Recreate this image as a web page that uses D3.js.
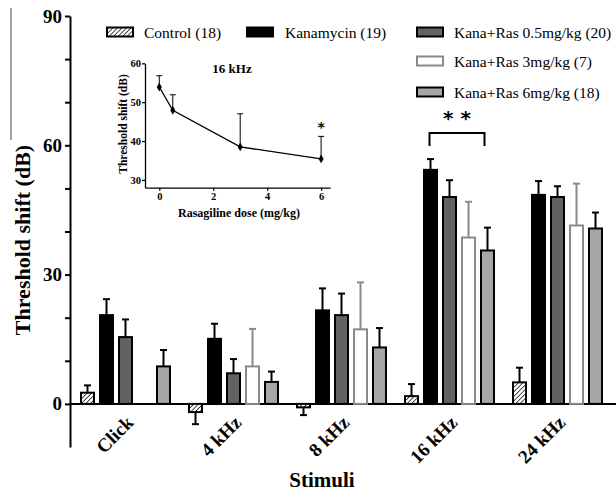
<!DOCTYPE html>
<html>
<head>
  <meta charset="UTF-8">
  <style>
    body { margin: 0; padding: 0; background: #fff; }
    svg { display: block; }
    text { font-family: "Liberation Serif", "Times New Roman", serif; fill: #000; }
  </style>
</head>
<body>
<svg></svg>
<script src="https://d3js.org/d3.v7.min.js"></script>
<script>
  // main chart data
  const groups = ["Click", "4 kHz", "8 kHz", "16 kHz", "24 kHz"];
  const seriesNames = ["Control (18)", "Kanamycin (19)", "Kana+Ras 0.5mg/kg (20)", "Kana+Ras 3mg/kg (7)", "Kana+Ras 6mg/kg (18)"];
  const controlMean = [2.6, -1.9, -0.8, 1.8, 5.0];
  const kanaMean    = [20.6, 15.1, 21.7, 54.3, 48.5];
  const ras05Mean   = [15.5, 7.1, 20.6, 48.0, 48.0];
  const ras3Mean    = [null, 8.7, 17.3, 38.6, 41.4];
  const ras6Mean    = [8.7, 5.1, 13.1, 35.6, 40.7];
  const controlErr  = [1.7, 2.8, 1.8, 2.8, 3.4];
  const kanaErr     = [3.7, 3.5, 5.1, 2.5, 3.2];
  const ras05Err    = [4.1, 3.3, 5.0, 3.9, 2.5];
  const ras3Err     = [null, 8.7, 10.9, 8.3, 9.7];
  const ras6Err     = [3.8, 2.4, 4.5, 5.3, 3.7];
  const yTickLabels = [0, 30, 60, 90];

  // inset data (16 kHz)
  const doses = [0, 0.5, 3, 6];
  const insetMean = [53.9, 47.9, 38.5, 35.4];
  const insetErr = [2.9, 4.0, 8.5, 5.8];
  const insetXTicks = [0, 2, 4, 6];
  const insetYTicks = [30, 40, 50, 60];

  const means = [controlMean, kanaMean, ras05Mean, ras3Mean, ras6Mean];
  const errs = [controlErr, kanaErr, ras05Err, ras3Err, ras6Err];

  const width = 616, height = 491;
  const svg = d3.select("svg").attr("width", width).attr("height", height);

  // hatch pattern for control
  const defs = svg.append("defs");
  const pat = defs.append("pattern")
      .attr("id", "hatch")
      .attr("patternUnits", "userSpaceOnUse")
      .attr("width", 3.2).attr("height", 3.2)
      .attr("patternTransform", "rotate(45)");
  pat.append("rect").attr("width", 3.2).attr("height", 3.2).attr("fill", "#fff");
  pat.append("line").attr("x1", 0).attr("y1", 0).attr("x2", 0).attr("y2", 3.2)
      .attr("stroke", "#000").attr("stroke-width", 1.4);

  const fills = ["url(#hatch)", "#000", "#626262", "#fff", "#a6a6a6"];
  const strokes = ["#000", "#000", "#000", "#8a8a8a", "#000"];

  // scales
  const y = d3.scaleLinear().domain([-10, 90]).range([447, 16]);
  const x0 = d3.scaleBand().domain(groups).range([81, 602]).paddingInner(19 / 108);
  const x1 = d3.scaleBand().domain(d3.range(5)).range([0, x0.bandwidth()]).paddingInner(6 / 19);

  // stray crop line at the left edge
  svg.append("line").attr("x1", 11).attr("x2", 11).attr("y1", 8).attr("y2", 140)
      .attr("stroke", "#444").attr("stroke-width", 1);

  // y axis
  const yAxis = svg.append("g")
      .attr("transform", "translate(70,0)")
      .call(d3.axisLeft(y)
        .tickValues(d3.range(0, 91, 10))
        .tickSize(5).tickSizeOuter(0).tickPadding(3)
        .tickFormat(d => yTickLabels.includes(d) ? d : ""));
  yAxis.select(".domain").attr("stroke-width", 2);
  yAxis.selectAll(".tick line").attr("stroke-width", 2);
  yAxis.selectAll(".tick text")
      .attr("font-weight", "bold").attr("font-size", 19).attr("fill", "#000");

  // x axis line at zero
  svg.append("line")
      .attr("x1", 70).attr("x2", width)
      .attr("y1", y(0)).attr("y2", y(0))
      .attr("stroke", "#000").attr("stroke-width", 2);

  // bars
  const bars = [];
  means.forEach((arr, s) => {
    arr.forEach((v, g) => {
      if (v === null) return;
      bars.push({ s: s, g: groups[g], v: v, e: errs[s][g] });
    });
  });

  const barG = svg.append("g");
  // error bars first (stem from bar top outward)
  barG.selectAll(".err").data(bars).enter().append("g").each(function(d) {
    const cx = x0(d.g) + x1(d.s) + x1.bandwidth() / 2;
    const end = d.v >= 0 ? d.v + d.e : d.v - d.e;
    const g = d3.select(this);
    const col = d.s === 3 ? "#8a8a8a" : "#000";
    g.append("line").attr("x1", cx).attr("x2", cx)
        .attr("y1", y(d.v)).attr("y2", y(end))
        .attr("stroke", col).attr("stroke-width", 2);
    g.append("line").attr("x1", cx - 3.5).attr("x2", cx + 3.5)
        .attr("y1", y(end)).attr("y2", y(end))
        .attr("stroke", col).attr("stroke-width", 2);
  });
  barG.selectAll(".bar").data(bars).enter().append("rect")
      .attr("x", d => x0(d.g) + x1(d.s))
      .attr("width", x1.bandwidth())
      .attr("y", d => y(Math.max(0, d.v)))
      .attr("height", d => Math.abs(y(d.v) - y(0)))
      .attr("fill", d => fills[d.s])
      .attr("stroke", d => strokes[d.s])
      .attr("stroke-width", 2);

  // x tick labels, rotated
  svg.append("g").selectAll("text").data(groups).enter().append("text")
      .attr("transform", d => `translate(${x0(d) + x0.bandwidth() / 2 + 9},${y(0) + 20}) rotate(-45)`)
      .attr("text-anchor", "end")
      .attr("font-weight", "bold").attr("font-size", 19)
      .text(d => d);

  // axis titles
  svg.append("text")
      .attr("transform", "translate(30,240) rotate(-90)")
      .attr("text-anchor", "middle")
      .attr("font-weight", "bold").attr("font-size", 22)
      .text("Threshold shift (dB)");
  svg.append("text")
      .attr("x", 322).attr("y", 487)
      .attr("text-anchor", "middle")
      .attr("font-weight", "bold").attr("font-size", 21)
      .text("Stimuli");

  // significance bracket at 16 kHz (Kanamycin vs 6 mg/kg)
  const bx1 = x0("16 kHz") + x1(1) + x1.bandwidth() / 2 - 1;
  const bx2 = x0("16 kHz") + x1(4) + x1.bandwidth() / 2 - 3;
  svg.append("path")
      .attr("d", `M${bx1},146 V133 H${bx2} V146`)
      .attr("fill", "none").attr("stroke", "#000").attr("stroke-width", 2);
  svg.append("text")
      .attr("x", (bx1 + bx2) / 2).attr("y", 125)
      .attr("text-anchor", "middle")
      .style("font-family", "'DejaVu Sans', sans-serif")
      .attr("font-weight", "bold").attr("font-size", 20)
      .text("* *");

  // legend
  const legendPos = [
    { x: 107, y: 32, tx: 144 },
    { x: 247, y: 32, tx: 285 },
    { x: 417, y: 32, tx: 454 },
    { x: 417, y: 61, tx: 454 },
    { x: 417, y: 92, tx: 454 }
  ];
  const legend = svg.append("g");
  seriesNames.forEach((name, i) => {
    const p = legendPos[i];
    legend.append("rect")
        .attr("x", p.x).attr("y", p.y - 4.5)
        .attr("width", 26).attr("height", 9)
        .attr("fill", fills[i]).attr("stroke", strokes[i]).attr("stroke-width", 2);
    legend.append("text")
        .attr("x", p.tx).attr("y", p.y + 5.5)
        .attr("font-size", 15.5)
        .text(name);
  });

  // inset
  const ix = d3.scaleLinear().domain([-0.53, 6.33]).range([145, 330]);
  const iy = d3.scaleLinear().domain([28, 60]).range([187.7, 63.3]);
  const inset = svg.append("g");

  const ixAxis = inset.append("g")
      .attr("transform", `translate(0,${iy(28)})`)
      .call(d3.axisBottom(ix).tickValues(insetXTicks).tickFormat(d3.format("d"))
        .tickSize(3).tickSizeOuter(0).tickPadding(2));
  const iyAxis = inset.append("g")
      .attr("transform", `translate(${ix(-0.53)},0)`)
      .call(d3.axisLeft(iy).tickValues(insetYTicks).tickFormat(d3.format("d"))
        .tickSize(3).tickSizeOuter(0).tickPadding(1));
  [ixAxis, iyAxis].forEach(a => {
    a.select(".domain").attr("stroke-width", 1.3);
    a.selectAll(".tick line").attr("stroke-width", 1.3);
    a.selectAll(".tick text")
        .attr("font-weight", "bold").attr("font-size", 10.5).attr("fill", "#000");
  });

  const insetData = doses.map((d, i) => ({ d: d, m: insetMean[i], e: insetErr[i] }));
  inset.selectAll(".ierr").data(insetData).enter().append("path")
      .attr("d", d => `M${ix(d.d)},${iy(d.m)} V${iy(d.m + d.e)} M${ix(d.d) - 3},${iy(d.m + d.e)} H${ix(d.d) + 3}`)
      .attr("fill", "none").attr("stroke", "#000").attr("stroke-width", 1);
  inset.append("path")
      .datum(insetData)
      .attr("d", d3.line().x(d => ix(d.d)).y(d => iy(d.m)))
      .attr("fill", "none").attr("stroke", "#000").attr("stroke-width", 1.3);
  inset.selectAll(".pt").data(insetData).enter().append("path")
      .attr("transform", d => `translate(${ix(d.d)},${iy(d.m)})`)
      .attr("d", d3.symbol().type(d3.symbolDiamond).size(22))
      .attr("fill", "#000");

  inset.append("text")
      .attr("x", ix(6)).attr("y", iy(insetMean[3] + insetErr[3]) - 4)
      .attr("text-anchor", "middle")
      .style("font-family", "'DejaVu Sans', sans-serif")
      .attr("font-weight", "bold").attr("font-size", 14)
      .text("*");
  inset.append("text")
      .attr("x", 232).attr("y", 73)
      .attr("text-anchor", "middle")
      .attr("font-weight", "bold").attr("font-size", 13)
      .text("16 kHz");
  inset.append("text")
      .attr("x", 239).attr("y", 217)
      .attr("text-anchor", "middle")
      .attr("font-weight", "bold").attr("font-size", 12)
      .text("Rasagiline dose (mg/kg)");
  inset.append("text")
      .attr("transform", "translate(127,124) rotate(-90)")
      .attr("text-anchor", "middle")
      .attr("font-weight", "bold").attr("font-size", 11.5)
      .text("Threshold shift (dB)");
</script>
</body>
</html>
